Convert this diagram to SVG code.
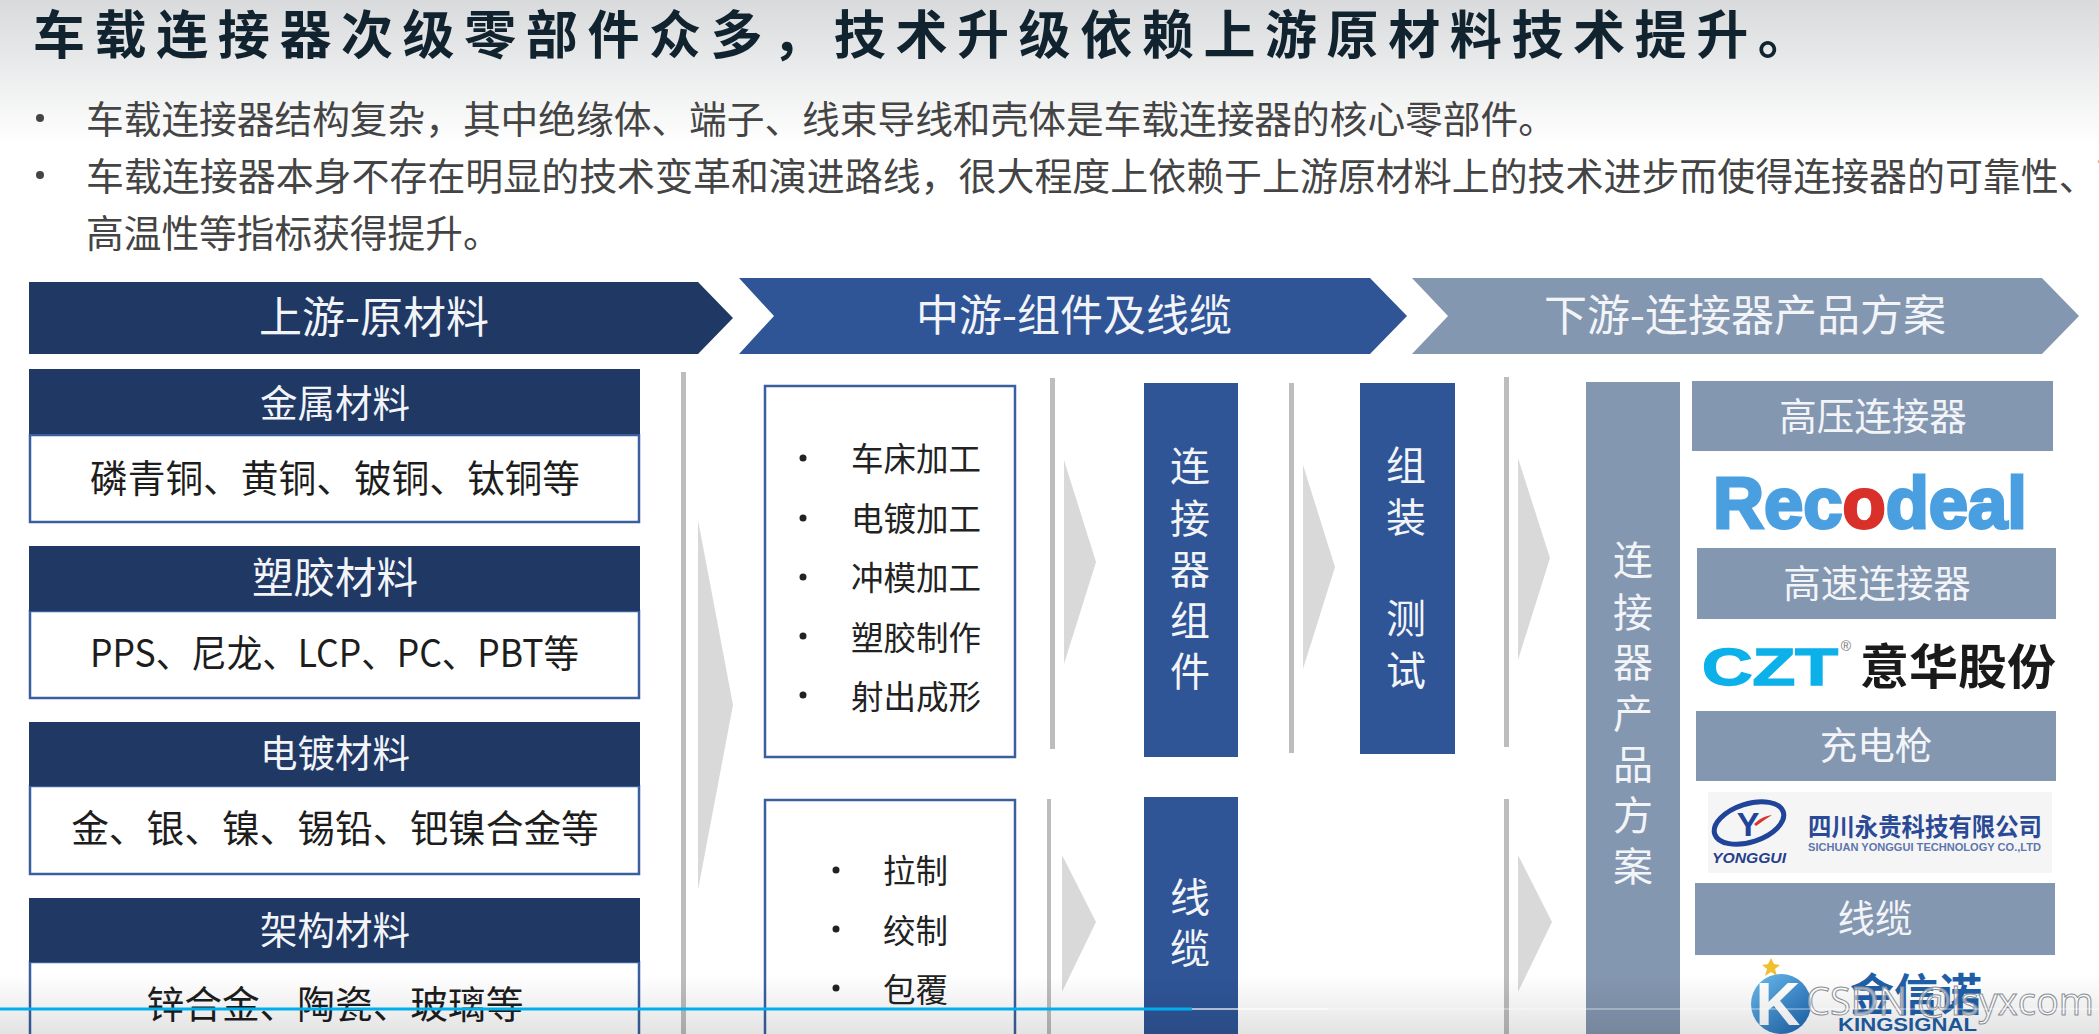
<svg xmlns="http://www.w3.org/2000/svg" width="2099" height="1034" viewBox="0 0 2099 1034">
<defs>
<linearGradient id="topShade" x1="0" y1="0" x2="0" y2="1"><stop offset="0" stop-color="#d8dadb"/><stop offset="1" stop-color="#ffffff"/></linearGradient>
<linearGradient id="botShade" x1="0" y1="0" x2="0" y2="1"><stop offset="0" stop-color="#000" stop-opacity="0"/><stop offset="1" stop-color="#000" stop-opacity="0.11"/></linearGradient>
<linearGradient id="kBall" x1="0" y1="0" x2="1" y2="1"><stop offset="0" stop-color="#6cbcec"/><stop offset="1" stop-color="#1a63b0"/></linearGradient>
<style>
text{font-family:"Noto Sans CJK SC","Noto Sans",sans-serif;dominant-baseline:central}
.m{text-anchor:middle}
.title{font-size:52px;font-weight:700;letter-spacing:9.6px;fill:#10232f}
.bul{font-size:37.7px;fill:#444}
.head{font-size:43px;fill:#f2f4f8;text-anchor:middle}
.sub{font-size:37.5px;fill:#f2f4f8;text-anchor:middle}
.body{font-size:37.7px;fill:#1d1d1d;text-anchor:middle}
.item{font-size:32.5px;fill:#222}
.col{font-size:40px;fill:#f2f4f8;text-anchor:middle}
.navy{fill:#203864}.mid{fill:#2f5597}.lt{fill:#8497b0}
.box{fill:#fff;stroke:#3a5f9e;stroke-width:2.5px}
.sep{fill:#bdbdbd}.arr{fill:#d9d9d9}
.dot{fill:#222}
</style>
</defs>
<rect width="2099" height="1034" fill="#fff"/>
<rect id="top-shade" width="2099" height="145" fill="url(#topShade)"/>
<g id="title"><text class="title" x="33" y="31">车载连接器次级零部件众多，技术升级依赖上游原材料技术提升。</text></g>
<g id="bullets">
<circle cx="40" cy="118" r="4" fill="#444"/><circle cx="40" cy="175" r="4" fill="#444"/>
<text class="bul" x="86" y="116">车载连接器结构复杂，其中绝缘体、端子、线束导线和壳体是车载连接器的核心零部件。</text>
<text class="bul" x="86" y="173" style="font-size:37.95px">车载连接器本身不存在明显的技术变革和演进路线，很大程度上依赖于上游原材料上的技术进步而使得连接器的可靠性、耐</text>
<text class="bul" x="86" y="230">高温性等指标获得提升。</text>
</g>
<g id="banner-up"><polygon class="navy" points="29,282 698,282 733,318 698,354 29,354"/><text class="head" x="374" y="314">上游-原材料</text></g>
<g id="banner-mid"><polygon class="mid" points="739,278 1370,278 1407,316 1370,354 739,354 774,316"/><text class="head" x="1074" y="312">中游-组件及线缆</text></g>
<g id="banner-down"><polygon class="lt" points="1412,278 2042,278 2079,316 2042,354 1412,354 1448,316"/><text class="head" x="1745" y="312">下游-连接器产品方案</text></g>
<g id="metal"><rect class="box" x="30" y="435" width="609" height="87"/><rect class="navy" x="29" y="369" width="611" height="65"/><text class="sub" x="335" y="400">金属材料</text><text class="body" x="335" y="475">磷青铜、黄铜、铍铜、钛铜等</text></g>
<g id="plastic"><rect class="box" x="30" y="611" width="609" height="87"/><rect class="navy" x="29" y="546" width="611" height="65"/><text class="sub" x="335" y="575" style="font-size:41.5px">塑胶材料</text><text x="90" y="650" textLength="489" lengthAdjust="spacingAndGlyphs" style="font-size:38px;fill:#1d1d1d">PPS、尼龙、LCP、PC、PBT等</text></g>
<g id="plating"><rect class="box" x="30" y="786" width="609" height="88"/><rect class="navy" x="29" y="722" width="611" height="64"/><text class="sub" x="335" y="750">电镀材料</text><text class="body" x="335" y="825">金、银、镍、锡铅、钯镍合金等</text></g>
<g id="frame"><rect class="box" x="30" y="962" width="609" height="90"/><rect class="navy" x="29" y="898" width="611" height="64"/><text class="sub" x="335" y="927">架构材料</text><text class="body" x="335" y="1001">锌合金、陶瓷、玻璃等</text></g>
<g id="connectors">
<rect class="sep" x="681" y="372" width="5" height="662"/>
<polygon class="arr" points="698,520 733,705 698,890"/>
<rect class="sep" x="1050" y="378" width="5" height="371"/>
<rect class="sep" x="1047" y="799" width="4" height="235"/>
<rect class="sep" x="1289" y="383" width="5" height="370"/>
<rect class="sep" x="1504" y="377" width="5" height="370"/>
<rect class="sep" x="1504" y="799" width="5" height="235"/>
<polygon class="arr" points="1064,460 1096,562 1064,664"/>
<polygon class="arr" points="1303,465 1335,567 1303,669"/>
<polygon class="arr" points="1518,458 1550,558 1518,660"/>
<polygon class="arr" points="1062,855 1096,922 1062,992"/>
<polygon class="arr" points="1518,855 1552,922 1518,992"/>
</g>
<g id="process-a"><rect class="box" x="765" y="386" width="250" height="371"/>
<circle class="dot" cx="803" cy="458" r="3.500"/><circle class="dot" cx="803" cy="518" r="3.500"/><circle class="dot" cx="803" cy="577" r="3.500"/><circle class="dot" cx="803" cy="636" r="3.500"/><circle class="dot" cx="803" cy="695" r="3.500"/>
<text class="item" x="851" y="456">车床加工</text><text class="item" x="851" y="516">电镀加工</text><text class="item" x="851" y="575">冲模加工</text><text class="item" x="851" y="635">塑胶制作</text><text class="item" x="851" y="694">射出成形</text></g>
<g id="process-b"><rect class="box" x="765" y="800" width="250" height="254"/>
<circle class="dot" cx="836" cy="870" r="3.500"/><circle class="dot" cx="836" cy="929" r="3.500"/><circle class="dot" cx="836" cy="988" r="3.500"/>
<text class="item" x="883" y="868">拉制</text><text class="item" x="883" y="928">绞制</text><text class="item" x="883" y="987">包覆</text></g>
<g id="comp"><rect class="mid" x="1144" y="383" width="94" height="374"/><text class="col" x="1190" y="464">连</text><text class="col" x="1190" y="516">接</text><text class="col" x="1190" y="567">器</text><text class="col" x="1190" y="618">组</text><text class="col" x="1190" y="669">件</text></g>
<g id="assembly"><rect class="mid" x="1360" y="383" width="95" height="371"/><text class="col" x="1406" y="463">组</text><text class="col" x="1406" y="515">装</text><text class="col" x="1406" y="616">测</text><text class="col" x="1406" y="668">试</text></g>
<g id="cable"><rect class="mid" x="1144" y="797" width="94" height="237"/><text class="col" x="1190" y="895">线</text><text class="col" x="1190" y="946">缆</text></g>
<g id="solution"><rect class="lt" x="1586" y="382" width="94" height="652"/><text class="col" x="1633" y="558">连</text><text class="col" x="1633" y="610">接</text><text class="col" x="1633" y="660">器</text><text class="col" x="1633" y="711">产</text><text class="col" x="1633" y="762">品</text><text class="col" x="1633" y="813">方</text><text class="col" x="1633" y="864">案</text></g>
<g id="hv"><rect class="lt" x="1692" y="381" width="361" height="70"/><text class="sub" x="1873" y="413">高压连接器</text></g>
<g id="logo-recodeal">
<text x="1713" y="502" textLength="314" lengthAdjust="spacingAndGlyphs" style="font-family:'Liberation Sans',sans-serif;font-weight:700;font-size:73px;fill:#4a9fe0;stroke:#4a9fe0;stroke-width:3px">Rec<tspan fill="#d9302a" stroke="#d9302a">o</tspan>deal</text>
</g>
<g id="hs"><rect class="lt" x="1697" y="548" width="359" height="71"/><text class="sub" x="1877" y="580">高速连接器</text></g>
<g id="logo-czt">
<text x="1702" y="667" textLength="136" lengthAdjust="spacingAndGlyphs" style="font-family:'Liberation Sans',sans-serif;font-weight:700;font-size:52px;fill:#0cb1ea;stroke:#0cb1ea;stroke-width:1.500px">CZT</text>
<text x="1846" y="646" class="m" style="font-family:'Liberation Sans',sans-serif;font-size:14px;fill:#777">®</text>
<text x="1860" y="663" textLength="196" lengthAdjust="spacingAndGlyphs" style="font-size:48px;font-weight:700;fill:#1a1a1a">意华股份</text>
</g>
<g id="gun"><rect class="lt" x="1696" y="711" width="360" height="70"/><text class="sub" x="1876" y="742">充电枪</text></g>
<g id="logo-yonggui"><rect x="1708" y="792" width="344" height="81" fill="#f5f5f6"/>
<ellipse cx="1749" cy="823" rx="36" ry="19" fill="none" stroke="#20449a" stroke-width="5" transform="rotate(-18 1749 823)"/>
<text class="m" x="1748" y="824" style="font-family:'Liberation Sans',sans-serif;font-weight:700;font-size:34px;fill:#20449a">Y</text>
<path d="M1754 824Q1762 816 1772 815Q1764 820 1756 826Z" fill="#d8352f"/>
<text x="1712" y="858" textLength="74" lengthAdjust="spacingAndGlyphs" style="font-family:'Liberation Sans',sans-serif;font-weight:700;font-style:italic;font-size:14px;fill:#26408c">YONGGUI</text>
<text x="1808" y="825" textLength="234" lengthAdjust="spacingAndGlyphs" style="font-size:25px;font-weight:700;fill:#2b4a96">四川永贵科技有限公司</text>
<text x="1808" y="847" textLength="233" lengthAdjust="spacingAndGlyphs" style="font-family:'Liberation Sans',sans-serif;font-weight:700;font-size:11px;fill:#5c76ad">SICHUAN YONGGUI TECHNOLOGY CO.,LTD</text>
</g>
<g id="wire"><rect class="lt" x="1695" y="883" width="360" height="72"/><text class="sub" x="1875" y="915">线缆</text></g>
<g id="logo-kingsignal">
<polygon points="1771,958 1774,964 1780,965 1775,969 1777,976 1771,972 1765,976 1767,969 1762,965 1768,964" fill="#f0c030"/>
<circle cx="1781" cy="1004" r="30" fill="url(#kBall)"/>
<text class="m" x="1778" y="1003" style="font-family:'Liberation Sans',sans-serif;font-weight:700;font-size:62px;fill:#fff">K</text>
<text x="1850" y="992" textLength="132" lengthAdjust="spacingAndGlyphs" style="font-size:44px;font-weight:700;fill:#1f5fa8">金信诺</text>
<text x="1838" y="1025" textLength="139" lengthAdjust="spacingAndGlyphs" style="font-family:'Liberation Sans',sans-serif;font-weight:700;font-size:18px;fill:#1f5fa8">KINGSIGNAL</text>
</g>
<rect id="bottom-shade" y="975" width="2099" height="59" fill="url(#botShade)"/>
<g id="watermark"><text x="1806" y="1000" textLength="288" lengthAdjust="spacing" style="font-family:'Open Sans',sans-serif;font-size:38px;fill:#ffffff;fill-opacity:.55;stroke:#8a8f96;stroke-width:1px">CSDN @lsyxcom</text></g>
<g id="progress"><rect y="1008" width="2099" height="2" fill="#fff" fill-opacity=".3"/><rect x="1192" y="1008" width="136" height="2" fill="#fff" fill-opacity=".45"/><rect y="1007.500" width="1192" height="3" fill="#00aeec"/></g>
</svg>
